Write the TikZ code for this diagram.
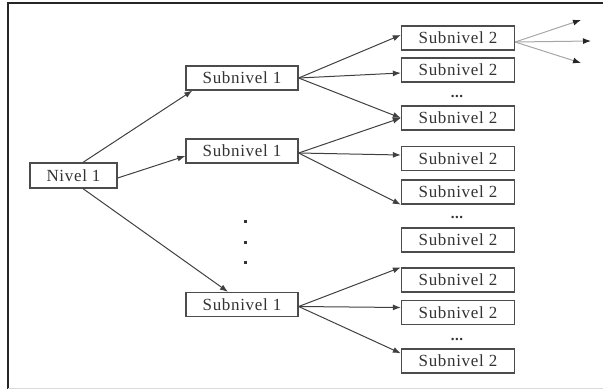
\documentclass[tikz,border=0pt]{standalone}
\usepackage{fontspec}
\setmainfont{Liberation Serif}
\newfontfamily\boxfont[LetterSpace=4]{Liberation Serif}
\usetikzlibrary{arrows.meta}

\begin{document}
\begin{tikzpicture}[
    x=1pt, y=-1pt,
    box/.style={draw=black!70, line width=1.3pt, fill=white, minimum width=112pt, minimum height=24pt, inner sep=0pt, text=black!80, font={\boxfont\fontsize{17}{19}\selectfont}},
    arrow/.style={-{Latex[length=8pt,width=6pt]}, draw=black!75, line width=1pt},
    outarrow/.style={-{Latex[length=8pt,width=6pt,color=black!85]}, draw=black!35, line width=1pt},
    more/.style={text=black!80, font={\boxfont\fontsize{15}{17}\selectfont\bfseries}}
]
    \useasboundingbox (0,0) rectangle (603,389);
    \draw[line width=2pt, black!85] (8,389) -- (8,3) -- (603,3);
    \draw[black!15] (8,388) -- (603,388);

    \node[box, minimum width=87pt, minimum height=25pt] (nivel) at (73.5,175.5) {Nivel 1};

    \node[box] (subA) at (242,78) {Subnivel 1};
    \node[box] (subB) at (242,151) {Subnivel 1};
    \node[box] (subC) at (242,304.5) {Subnivel 1};

    \node[box, minimum width=113pt] (s2a) at (458,38) {Subnivel 2};
    \node[box, minimum width=113pt] (s2b) at (458,70) {Subnivel 2};
    \node[more] (dotsA) at (457,96) {...};
    \node[box, minimum width=113pt] (s2c) at (458,118) {Subnivel 2};
    \node[box, minimum width=113pt] (s2d) at (458,158.5) {Subnivel 2};
    \node[box, minimum width=113pt] (s2e) at (458,192) {Subnivel 2};
    \node[more] (dotsB) at (457,217) {...};
    \node[box, minimum width=113pt] (s2f) at (458,240) {Subnivel 2};
    \node[box, minimum width=113pt] (s2g) at (458,280) {Subnivel 2};
    \node[box, minimum width=113pt] (s2h) at (458,312.5) {Subnivel 2};
    \node[more] (dotsC) at (457,339) {...};
    \node[box, minimum width=113pt] (s2i) at (458,361) {Subnivel 2};

    % vertical dots between the Subnivel 1 boxes
    \fill[black!80] (243.5,219.5) rectangle (246.5,222.5);
    \fill[black!80] (243.5,240.5) rectangle (246.5,243.5);
    \fill[black!80] (243.5,260.5) rectangle (246.5,263.5);

    \draw[arrow] ([xshift=9.5pt]nivel.north) -- ([xshift=7pt]subA.south west);
    \draw[arrow] ([yshift=-2.5pt]nivel.east) -- ([yshift=-5pt]subB.west);
    \draw[arrow] ([xshift=9.5pt]nivel.south) -- ([xshift=-14pt]subC.north);

    \draw[arrow] (subA.east) -- ([yshift=3pt]s2a.west);
    \draw[arrow] (subA.east) -- ([yshift=-3pt]s2b.west);
    \draw[arrow] (subA.east) -- (s2c.west);

    \draw[arrow] ([yshift=-2pt]subB.east) -- (s2c.west);
    \draw[arrow] ([yshift=-2pt]subB.east) -- ([yshift=3.5pt]s2d.west);
    \draw[arrow] ([yshift=-2pt]subB.east) -- (s2e.south west);

    \draw[arrow] ([yshift=-2pt]subC.east) -- (s2g.north west);
    \draw[arrow] ([yshift=-2pt]subC.east) -- ([yshift=5pt]s2h.west);
    \draw[arrow] ([yshift=-2pt]subC.east) -- ([yshift=-5pt]s2i.north west);

    \coordinate (outA) at (581,20);
    \coordinate (outB) at (591,41);
    \coordinate (outC) at (581,63);
    \draw[outarrow] ([yshift=-4pt]s2a.east) -- (outA);
    \draw[outarrow] ([yshift=-4pt]s2a.east) -- (outB);
    \draw[outarrow] ([yshift=-4pt]s2a.east) -- (outC);
\end{tikzpicture}
\end{document}
